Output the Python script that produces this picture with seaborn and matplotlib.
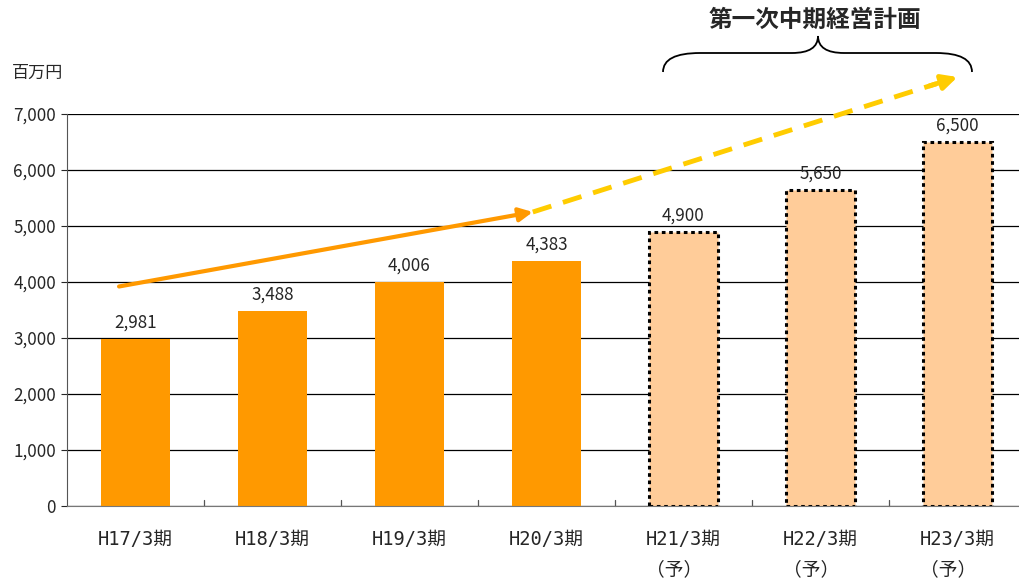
import numpy as np
import pandas as pd
import seaborn as sns
import matplotlib.pyplot as plt
from matplotlib.path import Path
from matplotlib.patches import PathPatch

periods = ["H17/3期", "H18/3期", "H19/3期", "H20/3期",
           "H21/3期\n（予）　", "H22/3期\n（予）　", "H23/3期\n（予）　"]
sales = [2981, 3488, 4006, 4383, 4900, 5650, 6500]
is_plan = [False, False, False, False, True, True, True]
bar_colors = ["#FF9900" if not p else "#FFCC99" for p in is_plan]

# trend arrows (data coords)
actual_arrow = [(-0.12, 3920), (2.90, 5250)]
plan_arrow = [(2.90, 5250), (6.00, 7660)]

sns.set_style("white")
plt.rcParams['font.family'] = ['Noto Sans CJK JP', 'DejaVu Sans']

W, H = 1019, 583
fs = 12.3
fig = plt.figure(figsize=(W / 100, H / 100), dpi=100)
ax = fig.add_axes([67 / W, 1 - 506 / H, (1026 - 67) / W, (506 - 114) / H])

df = pd.DataFrame({"period": periods, "sales": sales})
sns.barplot(data=df, x="period", y="sales", hue="period", palette=bar_colors,
            legend=False, width=0.5, ax=ax, saturation=1)

for bar, plan in zip(ax.patches, is_plan):
    if plan:
        bar.set_edgecolor("black")
        bar.set_linewidth(2.2)
        bar.set_linestyle((0, (1.2, 1.2)))
    else:
        bar.set_linewidth(0)

for i, v in enumerate(sales):
    ax.text(i, v + 130, f"{v:,}", ha="center", va="bottom", fontsize=fs)

ax.set_ylim(0, 7000)
ax.set_xlim(-0.5, 6.5)
ax.set_yticks(range(0, 7001, 1000))
ax.set_yticklabels([f"{t:,}" for t in range(0, 7001, 1000)], fontsize=fs)
ax.yaxis.grid(True, color="black", linewidth=0.9)
ax.set_axisbelow(True)
ax.set_xlabel("")
ax.set_ylabel("")
for s in ["top", "right"]:
    ax.spines[s].set_visible(False)
ax.spines["left"].set_color("#555555")
ax.spines["bottom"].set_color("#777777")
ax.tick_params(axis="y", direction="out", length=4, width=0.8, pad=4, left=True)
ax.tick_params(axis="x", length=0, pad=17)
for lab in ax.get_xticklabels():
    lab.set_fontfamily(['DejaVu Sans Mono', 'Noto Sans CJK JP'])
    lab.set_fontsize(13.5)
    lab.set_linespacing(1.75)
    lab.set_multialignment("center")
# category boundary ticks on the x axis
for b in np.arange(0.5, 6, 1):
    ax.plot([b, b], [0, 110], color="#555555", lw=0.9, clip_on=False)

# trend arrows
ax.annotate("", xy=actual_arrow[1], xytext=actual_arrow[0],
            arrowprops=dict(arrowstyle="-|>,head_length=0.8,head_width=0.4",
                            color="#FF9900", lw=3, shrinkA=0, shrinkB=0),
            annotation_clip=False)
(x0, y0), (x1, y1) = plan_arrow
frac = 0.95
xm, ym = x0 + (x1 - x0) * frac, y0 + (y1 - y0) * frac
ax.plot([x0, xm], [y0, ym], color="#FFCC00", lw=3.5, ls=(0, (4, 2.5)),
        clip_on=False, solid_capstyle="butt")
ax.annotate("", xy=(x1, y1), xytext=(xm - 0.05, ym - 38),
            arrowprops=dict(arrowstyle="-|>,head_length=0.9,head_width=0.45",
                            color="#FFCC00", lw=3.5, shrinkA=0, shrinkB=0),
            annotation_clip=False)

# unit label
fig.text(12 / W, 1 - 73 / H, "百万円", fontsize=fs, ha="left", va="center")

# brace and plan title
def fp(x, y):
    return (x / W, 1 - y / H)

verts = [fp(663, 72), fp(663, 53), fp(700, 53),
         fp(792, 53),
         fp(818, 53), fp(818, 36),
         fp(818, 53), fp(844, 53),
         fp(936, 53),
         fp(972, 53), fp(972, 72)]
codes = [Path.MOVETO, Path.CURVE3, Path.CURVE3,
         Path.LINETO,
         Path.CURVE3, Path.CURVE3,
         Path.CURVE3, Path.CURVE3,
         Path.LINETO,
         Path.CURVE3, Path.CURVE3]
brace = PathPatch(Path(verts, codes), transform=fig.transFigure,
                  fill=False, edgecolor="black", lw=1.3)
fig.patches.append(brace)
fig.text(815 / W, 1 - 20 / H, "第一次中期経営計画", fontsize=17,
         fontweight="bold", ha="center", va="center")

fig.savefig("out.png", dpi=100)
